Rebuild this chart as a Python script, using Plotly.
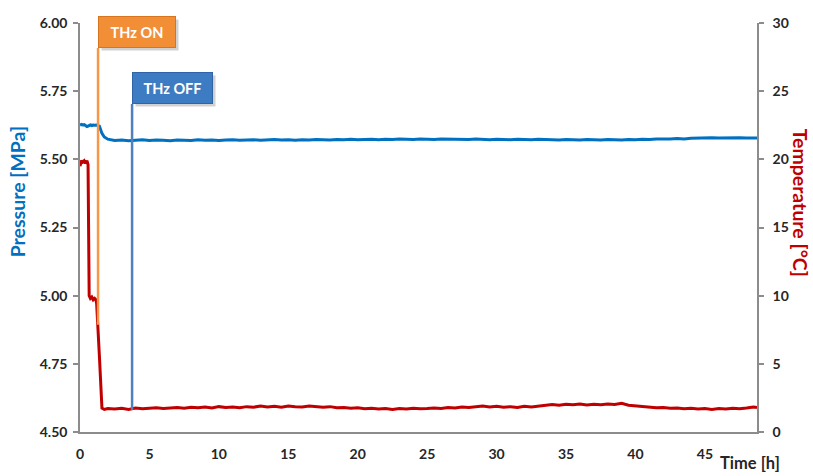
import plotly.graph_objects as go

# ---------------- data ----------------
time_h = [0, 0.1, 0.2, 0.3, 0.4, 0.5, 0.58, 0.66, 0.75, 0.85, 0.95, 1.05, 1.15, 1.2, 1.4, 1.58, 1.75, 2.0,
          2.5, 3, 3.5, 4, 4.5, 5, 5.5, 6, 6.5, 7,
          7.5, 8, 8.5, 9, 9.5, 10, 10.5, 11, 11.5, 12,
          12.5, 13, 13.5, 14, 14.5, 15, 15.5, 16, 16.5, 17,
          17.5, 18, 18.5, 19, 19.5, 20, 20.5, 21, 21.5, 22,
          22.5, 23, 23.5, 24, 24.5, 25, 25.5, 26, 26.5, 27,
          27.5, 28, 28.5, 29, 29.5, 30, 30.5, 31, 31.5, 32,
          32.5, 33, 33.5, 34, 34.5, 35, 35.5, 36, 36.5, 37,
          37.5, 38, 38.5, 39, 39.5, 40, 40.5, 41, 41.5, 42,
          42.5, 43, 43.5, 44, 44.5, 45, 45.5, 46, 46.5, 47,
          47.5, 48, 48.5, 48.75]

pressure_mpa = [5.625, 5.628, 5.626, 5.627, 5.624, 5.620, 5.622, 5.625, 5.626, 5.624, 5.626, 5.625, 5.627, 5.626, 5.622, 5.595, 5.582, 5.574,
                5.569, 5.571, 5.568, 5.570, 5.572, 5.569, 5.571, 5.570, 5.568, 5.571,
                5.570, 5.569, 5.572, 5.570, 5.571, 5.569, 5.571, 5.572, 5.570, 5.571,
                5.572, 5.570, 5.571, 5.573, 5.571, 5.572, 5.570, 5.572, 5.571, 5.573,
                5.572, 5.571, 5.573, 5.572, 5.574, 5.572, 5.573, 5.574, 5.572, 5.574,
                5.573, 5.575, 5.574, 5.573, 5.575, 5.574, 5.573, 5.575, 5.574, 5.573,
                5.574, 5.573, 5.575, 5.574, 5.572, 5.574, 5.573, 5.572, 5.574, 5.573,
                5.572, 5.574, 5.573, 5.572, 5.571, 5.573, 5.572, 5.571, 5.573, 5.572,
                5.571, 5.573, 5.572, 5.571, 5.573, 5.572, 5.574, 5.573, 5.575, 5.574,
                5.575, 5.576, 5.575, 5.577, 5.578, 5.577, 5.579, 5.578, 5.579, 5.578,
                5.579, 5.578, 5.579, 5.578]

temperature_c = [19.5, 19.9, 19.8, 19.9, 19.7, 19.9, 19.6, 10.0, 9.8, 9.9, 9.7, 9.8, 9.7, 9.4, 5.5, 1.75, 1.65, 1.72,
                 1.68, 1.74, 1.66, 1.76, 1.70, 1.74, 1.78, 1.72, 1.76, 1.80,
                 1.74, 1.82, 1.78, 1.84, 1.76, 1.86, 1.80, 1.84, 1.78, 1.86,
                 1.82, 1.90, 1.84, 1.88, 1.82, 1.90, 1.86, 1.84, 1.90, 1.86,
                 1.82, 1.86, 1.78, 1.80, 1.74, 1.78, 1.70, 1.74, 1.68, 1.72,
                 1.66, 1.72, 1.68, 1.74, 1.70, 1.72, 1.76, 1.72, 1.80, 1.76,
                 1.84, 1.80, 1.86, 1.90, 1.84, 1.88, 1.82, 1.86, 1.80, 1.88,
                 1.84, 1.90, 1.98, 2.02, 1.96, 2.04, 2.00, 2.06, 1.98, 2.04,
                 2.00, 2.06, 2.02, 2.10, 1.96, 1.92, 1.86, 1.84, 1.78, 1.80,
                 1.74, 1.76, 1.70, 1.74, 1.68, 1.72, 1.66, 1.72, 1.68, 1.74,
                 1.70, 1.76, 1.84, 1.80]

event_labels = ["THz ON", "THz OFF"]
event_times = [1.3, 3.75]
event_line_bottom = [4.893, 4.581]   # pressure-axis units
event_line_top = [5.908, 5.703]
event_colors = ["#F79646", "#4F81BD"]
event_box_colors = ["#F28E35", "#3D7BC3"]
event_box_borders = ["#D8741E", "#2F65A6"]

x_ticks = [0, 5, 10, 15, 20, 25, 30, 35, 40, 45]
y_ticks = [4.50, 4.75, 5.00, 5.25, 5.50, 5.75, 6.00]
y2_ticks = [0, 5, 10, 15, 20, 25, 30]

FONT = "Lato"
TICKCOL = "#262626"
AXCOL = "#8C8C8C"

fig = go.Figure()
fig.add_trace(go.Scatter(x=time_h, y=temperature_c, mode="lines", yaxis="y2",
                         line=dict(color="#C00000", width=3), showlegend=False))
fig.add_trace(go.Scatter(x=time_h, y=pressure_mpa, mode="lines", yaxis="y",
                         line=dict(color="#0070C0", width=3), showlegend=False))

for t, yb, yt, c in zip(event_times, event_line_bottom, event_line_top, event_colors):
    fig.add_shape(type="line", xref="x", yref="y", x0=t, x1=t, y0=yb, y1=yt,
                  line=dict(color=c, width=2.5), layer="above")

for lab, t, yt, bg, bc in zip(event_labels, event_times, event_line_top, event_box_colors, event_box_borders):
    w = 76 if lab == "THz ON" else 79
    # shadow
    fig.add_annotation(x=t, y=yt, xref="x", yref="y", xanchor="left", yanchor="bottom",
                       text=" ", showarrow=False, bgcolor="rgba(0,0,0,0.18)",
                       width=w, height=30, borderpad=0, xshift=3, yshift=-3)
    fig.add_annotation(x=t, y=yt, xref="x", yref="y", xanchor="left", yanchor="bottom",
                       text=lab, showarrow=False, bgcolor=bg, bordercolor=bc, borderwidth=1,
                       width=w, height=30, borderpad=0,
                       font=dict(family=FONT, size=14.5, color="white", weight="bold"))

fig.add_annotation(xref="paper", yref="paper", x=-0.091, y=0.587, xanchor="center", yanchor="middle",
                   text="Pressure [MPa]", textangle=-90, showarrow=False,
                   font=dict(family=FONT, size=19.5, color="#0070C0", weight="bold"))
fig.add_annotation(xref="paper", yref="paper", x=1.064, y=0.56, xanchor="center", yanchor="middle",
                   text="Temperature [°C]", textangle=90, showarrow=False,
                   font=dict(family=FONT, size=19.5, color="#C00000", weight="bold"))
fig.add_annotation(xref="paper", yref="paper", x=0.99, y=-0.077, xanchor="center", yanchor="middle",
                   text="Time [h]", showarrow=False,
                   font=dict(family=FONT, size=16.5, color=TICKCOL, weight="bold"))

fig.update_layout(
    width=813, height=476,
    margin=dict(l=80, r=56, t=23, b=44),
    plot_bgcolor="white", paper_bgcolor="white",
    xaxis=dict(range=[0, 48.75], tickvals=x_ticks, showgrid=False, zeroline=False,
               showline=True, linecolor=AXCOL, linewidth=1.5, ticks="", ticklabelstandoff=8,
               tickfont=dict(family=FONT, size=14, color=TICKCOL, weight="bold")),
    yaxis=dict(range=[4.5, 6.0], tickvals=y_ticks, tickformat=".2f", showgrid=False, zeroline=False,
               showline=True, linecolor=AXCOL, linewidth=1.5, ticks="outside", ticklen=5,
               tickcolor=AXCOL, tickwidth=1.5, ticklabelstandoff=3,
               tickfont=dict(family=FONT, size=14, color=TICKCOL, weight="bold")),
    yaxis2=dict(range=[0, 30], tickvals=y2_ticks, overlaying="y", side="right", showgrid=False,
                zeroline=False, showline=True, linecolor=AXCOL, linewidth=1.5, ticks="outside",
                ticklen=5, tickcolor=AXCOL, tickwidth=1.5, ticklabelstandoff=6,
                tickfont=dict(family=FONT, size=14, color=TICKCOL, weight="bold")),
)

fig.write_html("out.html")
